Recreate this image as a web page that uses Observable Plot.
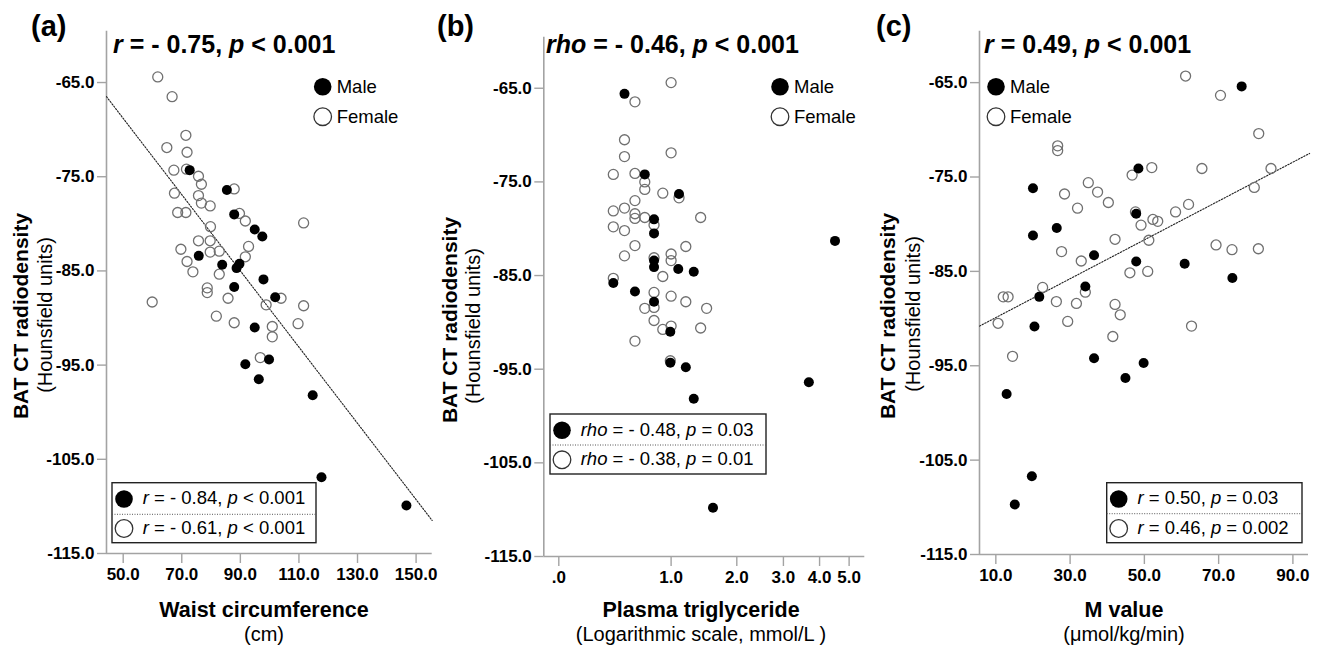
<!DOCTYPE html>
<html><head><meta charset="utf-8">
<script src="https://cdn.jsdelivr.net/npm/d3@7"></script>
<script src="https://cdn.jsdelivr.net/npm/@observablehq/plot@0.6"></script>
<style>
html,body{margin:0;padding:0;background:#fff;}
#wrap{position:relative;width:1321px;height:645px;overflow:hidden;font-family:"Liberation Sans",Arial,sans-serif;}
.panel{position:absolute;top:0;}
.panel svg{overflow:visible;}
g[aria-label="x-axis tick label"], g[aria-label="y-axis tick label"]{fill:#000 !important;font-weight:bold;font-size:17px;}
g[aria-label="x-axis tick label"] text, g[aria-label="y-axis tick label"] text{fill:#000 !important;font-weight:bold;font-size:17px !important;}
text{white-space:pre;}
</style></head><body><div id="wrap"></div>
<script>
// ---------- data ----------
const yTicks = [-65, -75, -85, -95, -105, -115];
const yDomain = [-115, -59.55];

// (a) Waist circumference (cm)
const waistMale = [72.7, 85.4, 87.9, 94.9, 97.5, 75.8, 83.8, 89.7, 88.7, 97.9, 87.9, 101.9, 94.9, 91.7, 99.8, 96.3, 114.7, 117.7, 146.7];
const huMaleA = [-74.3, -76.4, -79.0, -80.6, -81.35, -83.4, -84.35, -84.25, -84.7, -85.9, -86.7, -87.8, -91.0, -94.9, -94.4, -96.5, -98.2, -106.9, -109.9];
const waistFemale = [61.8, 66.7, 71.4, 64.9, 71.8, 67.3, 71.6, 75.7, 76.7, 87.9, 67.5, 75.7, 76.7, 79.7, 68.6, 71.4, 89.7, 91.7, 111.6, 79.8, 75.7, 79.7, 92.8, 69.7, 79.7, 82.8, 91.7, 71.8, 73.8, 82.8, 78.7, 78.7, 85.8, 59.9, 103.9, 98.8, 111.6, 81.8, 87.9, 100.9, 109.7, 100.9, 96.8];
const huFemaleA = [-64.4, -66.5, -70.6, -71.9, -72.4, -74.3, -74.2, -74.95, -75.8, -76.3, -76.75, -77.0, -77.8, -78.1, -78.8, -78.8, -78.9, -79.7, -79.9, -80.3, -81.8, -81.8, -82.4, -82.7, -83.0, -82.9, -83.5, -84.0, -85.1, -85.35, -86.8, -87.3, -87.9, -88.3, -87.9, -88.6, -88.7, -89.8, -90.5, -90.9, -90.6, -92.0, -94.2];
const fitAx = [44.3, 155.5];
const fitAy = [-66.5, -111.5];
const xTicksA = [50, 70, 90, 110, 130, 150];

// (b) Plasma triglyceride (mmol/L, log(x+1) scale)
const tgMale = [0.50, 0.70, 1.10, 0.80, 0.80, 4.50, 0.80, 0.80, 1.09, 1.30, 0.40, 0.60, 0.80, 0.99, 0.99, 1.19, 3.68, 1.30, 1.59];
const huMaleB = [-65.6, -74.2, -76.3, -79.0, -80.5, -81.3, -83.4, -84.1, -84.3, -84.6, -85.8, -86.7, -87.8, -91.0, -94.3, -94.8, -96.4, -98.15, -109.8];
const tgFemale = [1.00, 0.60, 0.50, 1.00, 0.50, 0.40, 0.60, 0.70, 0.70, 0.90, 1.10, 0.60, 0.40, 0.50, 0.60, 0.70, 0.60, 1.40, 0.80, 0.40, 0.50, 0.60, 1.19, 0.50, 1.00, 1.00, 0.80, 0.90, 0.40, 1.00, 0.80, 1.19, 0.70, 0.80, 1.49, 0.80, 1.00, 1.40, 0.90, 0.60, 0.99];
const huFemaleB = [-64.4, -66.45, -70.5, -71.9, -72.3, -74.2, -74.1, -75.0, -75.8, -76.2, -76.7, -77.0, -78.1, -77.8, -78.4, -78.8, -78.9, -78.8, -79.6, -79.8, -80.2, -81.8, -81.9, -82.9, -82.7, -83.4, -83.1, -85.1, -85.3, -87.2, -86.8, -87.8, -88.5, -88.4, -88.5, -89.8, -90.4, -90.6, -90.75, -92.0, -94.1];
const xTicksB = [0, 1, 2, 3, 4, 5];

// (c) M value (µmol/kg/min)
const mMale = [76.2, 48.4, 20.0, 47.8, 26.4, 20.0, 36.45, 47.8, 60.85, 73.7, 34.1, 21.7, 20.4, 36.45, 49.8, 44.9, 12.9, 19.7, 15.1];
const huMaleC = [-65.4, -74.1, -76.2, -78.9, -80.4, -81.2, -83.3, -83.95, -84.2, -85.7, -86.6, -87.7, -90.85, -94.2, -94.7, -96.3, -98.0, -106.7, -109.7];
const mFemale = [61.1, 70.5, 80.8, 26.65, 26.65, 52.0, 65.5, 84.1, 46.7, 34.9, 79.6, 28.5, 37.4, 40.3, 32.0, 61.9, 58.4, 47.6, 52.3, 53.6, 49.1, 42.1, 51.2, 69.3, 73.6, 80.7, 27.7, 33.0, 46.1, 50.9, 22.6, 34.1, 12.0, 13.3, 26.3, 31.7, 42.1, 43.5, 10.6, 29.35, 62.7, 41.5, 14.5];
const huFemaleC = [-64.3, -66.35, -70.4, -71.7, -72.2, -74.0, -74.1, -74.1, -74.8, -75.6, -76.1, -76.8, -76.6, -77.7, -78.3, -77.9, -78.7, -78.7, -79.5, -79.7, -80.1, -81.6, -81.7, -82.2, -82.7, -82.6, -82.9, -83.9, -85.15, -85.0, -86.7, -87.2, -87.7, -87.7, -88.2, -88.4, -88.5, -89.6, -90.5, -90.3, -90.8, -91.9, -94.0];
const fitCx = [5.6, 94.5];
const fitCy = [-90.8, -72.5];
const xTicksC = [10, 30, 50, 70, 90];

// ---------- helpers ----------
const FONT = '"Liberation Sans", Arial, Helvetica, sans-serif';
const AXIS = "#a3a3a3";
const zip = (xs, ys) => xs.map((x, i) => ({x, y: ys[i]}));

function txt(svg, x, y, parts, {size = 16, weight = "normal", anchor = "start", rotate = false} = {}) {
  const t = svg.append("text")
    .attr("font-family", FONT).attr("font-size", size).attr("font-weight", weight)
    .attr("text-anchor", anchor).attr("fill", "#000");
  if (rotate) t.attr("transform", `translate(${x},${y}) rotate(-90)`);
  else t.attr("x", x).attr("y", y);
  for (const p of parts) {
    const s = t.append("tspan").text(typeof p === "string" ? p : p.t);
    if (typeof p !== "string" && p.i) s.attr("font-style", "italic");
  }
  return t;
}
function circ(svg, cx, cy, r, filled) {
  svg.append("circle").attr("cx", cx).attr("cy", cy).attr("r", r)
    .attr("fill", filled ? "#000" : "#fff").attr("stroke", filled ? "none" : "#333").attr("stroke-width", 1.3);
}

function makePanel(c) {
  const div = d3.select("#wrap").append("div").attr("class", "panel").style("left", c.left + "px");
  const plot = Plot.plot({
    width: c.width, height: 645,
    marginLeft: c.mL, marginRight: c.mR, marginTop: c.mT, marginBottom: c.mB,
    style: {fontFamily: FONT, fontSize: "17px", background: "transparent", overflow: "visible"},
    x: c.xScale,
    y: {domain: yDomain},
    marks: [
      Plot.ruleX([c.xScale.domain[0]], {stroke: AXIS, strokeWidth: 1.6}),
      Plot.ruleY([yDomain[0]], {stroke: AXIS, strokeWidth: 1.6}),
      Plot.axisY({ticks: yTicks, tickFormat: d => d.toFixed(1), tickSize: 9, tickPadding: 3, color: AXIS, strokeWidth: 1.4, fontSize: 17, label: null}),
      Plot.axisX({ticks: c.xTicks, tickFormat: c.xFmt, tickSize: 10, tickPadding: 4, color: AXIS, strokeWidth: 1.4, fontSize: 17, label: null}),
      Plot.line(c.fit, {x: "x", y: "y", stroke: "#222", strokeWidth: 1.1, strokeDasharray: "1.4,1.6"}),
      Plot.dot(c.female, {x: "x", y: "y", r: 5, stroke: "#707070", strokeWidth: 1.3, fill: "none"}),
      Plot.dot(c.male, {x: "x", y: "y", r: 5, fill: "#000", stroke: "none"})
    ]
  });
  div.node().appendChild(plot);
  const svg = d3.select(plot.tagName.toLowerCase() === "svg" ? plot : plot.querySelector("svg"));
  const A = c.ann;
  // panel letter and title
  txt(svg, A.letterX, 36, [A.letter], {size: 29, weight: "bold"});
  txt(svg, A.titleX, 52.7, A.title, {size: 25, weight: "bold"});
  // Male/Female legend
  circ(svg, A.legX, 86.7, 8.8, true);
  circ(svg, A.legX, 116.7, 8.8, false);
  txt(svg, A.legX + 14, 93.3, ["Male"], {size: 18.5});
  txt(svg, A.legX + 14, 123.3, ["Female"], {size: 18.5});
  // stats box
  const b = A.box;
  svg.append("rect").attr("x", b.x).attr("y", b.y).attr("width", b.w).attr("height", b.h)
    .attr("fill", "#fff").attr("stroke", "#222").attr("stroke-width", 1.4);
  svg.append("line").attr("x1", b.x).attr("x2", b.x + b.w).attr("y1", b.sep).attr("y2", b.sep)
    .attr("stroke", "#555").attr("stroke-width", 1).attr("stroke-dasharray", "1,1.5");
  circ(svg, b.x + 12, b.y + 16.3, 8.8, true);
  circ(svg, b.x + 12, b.y + 45.8, 8.8, false);
  txt(svg, b.x + 30.7, b.y + 21.7, b.l1, {size: 18.5});
  txt(svg, b.x + 30.7, b.y + 51, b.l2, {size: 18.5});
  // y titles
  txt(svg, A.yT1x, A.yT1y, ["BAT CT radiodensity"], {size: 21, weight: "bold", anchor: "middle", rotate: true});
  txt(svg, A.yT2x, A.yT2y, ["(Hounsfield units)"], {size: 20, anchor: "middle", rotate: true});
  // x titles
  txt(svg, A.xTx, 616.5, [A.xT1], {size: 21.5, weight: "bold", anchor: "middle"});
  txt(svg, A.xTx, 640.5, [A.xT2], {size: 20, anchor: "middle"});
}

// ---------- panels ----------
makePanel({
  left: 0, width: 440, mL: 106, mR: 8.3, mT: 30.7, mB: 92,
  xScale: {domain: [44.3, 155.5]}, xTicks: xTicksA, xFmt: d => d.toFixed(1),
  fit: zip(fitAx, fitAy), female: zip(waistFemale, huFemaleA), male: zip(waistMale, huMaleA),
  ann: {
    letter: "(a)", letterX: 31, titleX: 113,
    title: [{t: "r", i: true}, " = - 0.75, ", {t: "p", i: true}, " < 0.001"],
    legX: 322.7,
    box: {x: 112, y: 482.7, w: 204, h: 60, sep: 514.3,
      l1: [{t: "r", i: true}, " = - 0.84, ", {t: "p", i: true}, " < 0.001"],
      l2: [{t: "r", i: true}, " = - 0.61, ", {t: "p", i: true}, " < 0.001"]},
    yT1x: 28, yT1y: 316, yT2x: 52, yT2y: 315,
    xTx: 264, xT1: "Waist circumference", xT2: "(cm)"
  }
});

makePanel({
  left: 430, width: 440, mL: 113.3, mR: 5.7, mT: 36.7, mB: 89,
  xScale: {type: "symlog", constant: 1, domain: [-0.097, 5.61]}, xTicks: xTicksB,
  xFmt: d => d === 0 ? ".0" : d.toFixed(1),
  fit: [], female: zip(tgFemale, huFemaleB), male: zip(tgMale, huMaleB),
  ann: {
    letter: "(b)", letterX: 7, titleX: 116,
    title: [{t: "rho", i: true}, " = - 0.46, ", {t: "p", i: true}, " < 0.001"],
    legX: 350,
    box: {x: 120, y: 414, w: 216, h: 60, sep: 445,
      l1: [{t: "rho", i: true}, " = - 0.48, ", {t: "p", i: true}, " = 0.03"],
      l2: [{t: "rho", i: true}, " = - 0.38, ", {t: "p", i: true}, " = 0.01"]},
    yT1x: 27, yT1y: 320, yT2x: 50, yT2y: 326,
    xTx: 271, xT1: "Plasma triglyceride", xT2: "(Logarithmic scale, mmol/L )"
  }
});

makePanel({
  left: 870, width: 451, mL: 109, mR: 13, mT: 30.7, mB: 91,
  xScale: {domain: [5.6, 94.2]}, xTicks: xTicksC, xFmt: d => d.toFixed(1),
  fit: zip(fitCx, fitCy), female: zip(mFemale, huFemaleC), male: zip(mMale, huMaleC),
  ann: {
    letter: "(c)", letterX: 6, titleX: 114,
    title: [{t: "r", i: true}, " = 0.49, ", {t: "p", i: true}, " < 0.001"],
    legX: 126,
    box: {x: 236.7, y: 482.7, w: 195.3, h: 60, sep: 513.7,
      l1: [{t: "r", i: true}, " = 0.50, ", {t: "p", i: true}, " = 0.03"],
      l2: [{t: "r", i: true}, " = 0.46, ", {t: "p", i: true}, " = 0.002"]},
    yT1x: 25, yT1y: 316, yT2x: 50, yT2y: 314,
    xTx: 254, xT1: "M value", xT2: "(μmol/kg/min)"
  }
});
</script>
</body></html>
